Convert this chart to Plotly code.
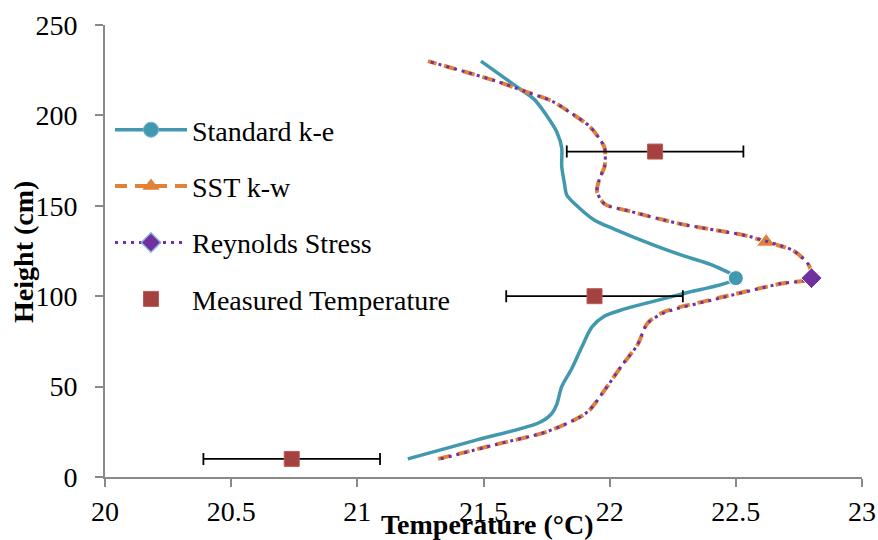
import plotly.graph_objects as go

# ---------------- data ----------------
std_temp = [21.20, 21.46, 21.72, 21.77, 21.79, 21.81, 21.85, 21.89, 21.93, 21.98, 22.06,
            22.28, 22.50, 22.41, 22.30, 22.18, 22.02, 21.94, 21.87, 21.83, 21.82, 21.81,
            21.81, 21.79, 21.75, 21.70, 21.62, 21.49]
std_height = [10, 20, 30, 35, 40, 50, 60, 72, 83, 89, 93,
              101, 110, 117, 122, 128, 137, 142, 150, 156, 163, 172,
              182, 191, 200, 209, 217, 230]

sst_temp = [21.32, 21.55, 21.75, 21.88, 21.92, 21.99, 22.05, 22.11, 22.15, 22.21, 22.40,
            22.68, 22.80, 22.79, 22.73, 22.62, 22.54, 22.28, 22.08, 21.98, 21.95, 21.96,
            21.98, 21.98, 21.96, 21.92, 21.85, 21.77, 21.67, 21.55, 21.43, 21.28]
sst_height = [10, 18, 25, 33, 37, 50, 62, 73, 85, 91, 98,
              107, 110, 117, 125, 130, 133.5, 140, 147, 151, 158, 165,
              172, 182, 187, 194, 201, 208, 213, 219, 224, 230]

rsm_temp = [21.33, 21.55, 21.75, 21.88, 21.92, 21.99, 22.05, 22.11, 22.15, 22.22, 22.41,
            22.68, 22.80, 22.79, 22.73, 22.63, 22.54, 22.28, 22.08, 21.98, 21.95, 21.96,
            21.98, 21.98, 21.96, 21.92, 21.85, 21.77, 21.67, 21.55, 21.43, 21.28]
rsm_height = [10, 18, 25, 33, 37, 50, 62, 73, 85, 91, 98,
              107, 110, 117, 125, 130, 133.5, 140, 147, 151, 158, 165,
              172, 182, 187, 194, 201, 208, 213, 219, 224, 230]

meas_temp = [20.74, 21.94, 22.18]
meas_height = [10, 100, 180]
meas_err = [0.35, 0.35, 0.35]

# heights at which each model series shows its marker
std_marker_at = 110
sst_marker_at = 130
rsm_marker_at = 110

series_names = ["Standard k-e", "SST k-w", "Reynolds Stress", "Measured Temperature"]

FONT = "Liberation Serif"
MS = 15

C_STD = "#4198AF"
C_SST = "#E0823A"
C_RSM = "#7030A0"
C_MEAS = "#A5413F"

line_std = dict(color=C_STD, width=3.5, shape="spline", smoothing=0.8)
line_sst = dict(color=C_SST, width=4, dash="12px,8px", shape="spline", smoothing=0.8)
line_rsm = dict(color=C_RSM, width=3, dash="3px,5px", shape="spline", smoothing=0.8)

# chart markers
mk_std = dict(symbol="circle", color=C_STD, opacity=1)
mk_sst = dict(symbol="triangle-up", color=C_SST, opacity=1)
mk_rsm = dict(symbol="diamond", color=C_RSM, opacity=1)
mk_meas = dict(symbol="square", color=C_MEAS, opacity=1, line=dict(color="#B85C59", width=1))

# legend markers
lg_std = dict(symbol="circle", color=C_STD, line=dict(color="#6FB8CC", width=1))
lg_sst = dict(symbol="triangle-up", color=C_SST)
lg_rsm = dict(symbol="diamond", color=C_RSM, line=dict(color="#8DB3E2", width=1.5))


def marker_sizes(heights, at, size=MS):
    return [size if h == at else 0 for h in heights]


fig = go.Figure()

# data traces (no legend)
fig.add_trace(go.Scatter(
    x=std_temp, y=std_height, mode="lines+markers", showlegend=False,
    line=line_std, marker=dict(size=marker_sizes(std_height, std_marker_at), **mk_std)))
fig.add_trace(go.Scatter(
    x=sst_temp, y=sst_height, mode="lines+markers", showlegend=False,
    line=line_sst, marker=dict(size=marker_sizes(sst_height, sst_marker_at, 17), **mk_sst)))
fig.add_trace(go.Scatter(
    x=rsm_temp, y=rsm_height, mode="lines+markers", showlegend=False,
    line=line_rsm, marker=dict(size=marker_sizes(rsm_height, rsm_marker_at, 16), **mk_rsm)))
fig.add_trace(go.Scatter(
    x=meas_temp, y=meas_height, mode="markers", showlegend=False,
    marker=dict(size=MS, **mk_meas),
    error_x=dict(type="data", array=meas_err, color="black", thickness=1.8, width=6)))

# legend entries
legend_specs = [
    (series_names[0], "lines+markers", line_std, lg_std),
    (series_names[1], "lines+markers", line_sst, lg_sst),
    (series_names[2], "lines+markers", line_rsm, lg_rsm),
    (series_names[3], "markers", None, mk_meas),
]
for i, (nm, md, ln, mk) in enumerate(legend_specs):
    kw = dict(x=[None], y=[None], name=nm, mode=md, legendgroup=f"g{i}",
              marker=dict(size=MS, **mk))
    if ln is not None:
        kw["line"] = {k: v for k, v in ln.items() if k not in ("shape", "smoothing")}
    fig.add_trace(go.Scatter(**kw))

axis_common = dict(
    showline=True, linecolor="#898989", linewidth=1.8, showgrid=False, zeroline=False,
    ticks="outside", ticklen=8, tickcolor="#898989", tickwidth=1.8, automargin=False,
    tickfont=dict(family=FONT, size=28, color="black"),
)

fig.update_layout(
    width=878, height=540,
    margin=dict(l=105, r=16, t=25, b=63, autoexpand=False),
    paper_bgcolor="white", plot_bgcolor="white",
    font=dict(family=FONT, size=28, color="black"),
    xaxis=dict(range=[20, 23], dtick=0.5, tick0=20, ticklabelstandoff=0, **axis_common),
    yaxis=dict(range=[0, 250], dtick=50, tick0=0, ticklabelstandoff=12, **axis_common),
    legend=dict(x=0.0066, y=0.823, xanchor="left", yanchor="top",
                bgcolor="rgba(0,0,0,0)", itemwidth=72, tracegroupgap=17,
                traceorder="grouped",
                font=dict(family=FONT, size=28, color="black")),
    showlegend=True,
    annotations=[
        dict(text="<b>Temperature (°C)</b>", xref="paper", yref="paper",
             x=0.505, y=-0.104, xanchor="center", yanchor="middle", showarrow=False,
             font=dict(family=FONT, size=28, color="black")),
        dict(text="<b>Height (cm)</b>", xref="paper", yref="paper",
             x=-0.107, y=0.498, xanchor="center", yanchor="middle", showarrow=False,
             textangle=-90, font=dict(family=FONT, size=28, color="black")),
    ],
)

fig.write_html("out.html", config={"displayModeBar": False},
               post_script="document.body.style.margin='0';document.body.style.overflow='hidden';")
